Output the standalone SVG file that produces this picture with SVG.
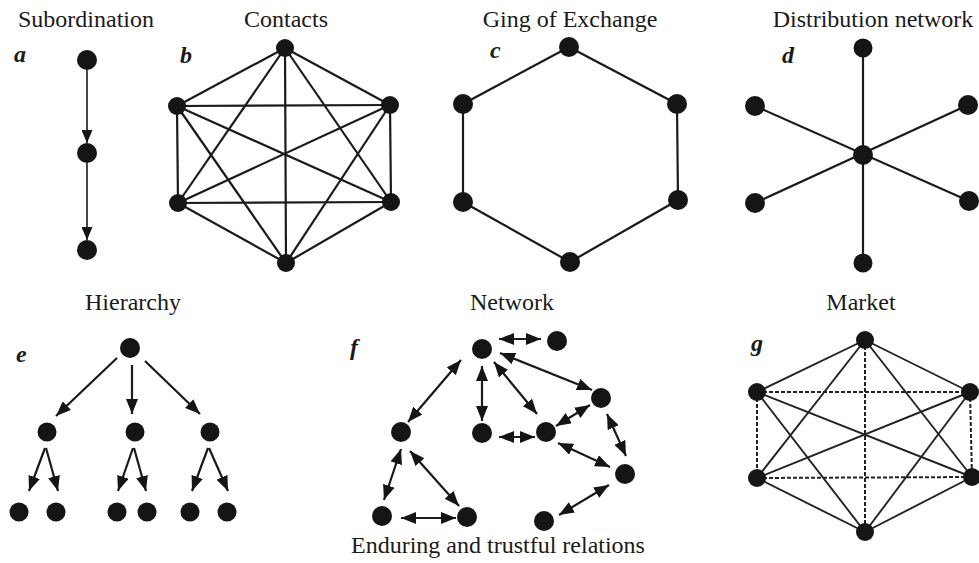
<svg xmlns="http://www.w3.org/2000/svg" width="979" height="563" viewBox="0 0 979 563">
<defs>
<style>
.t{font-family:'Liberation Serif','Times New Roman',serif;font-size:24px;fill:#1a1a1a;text-anchor:middle}
.l{font-family:'Liberation Serif','Times New Roman',serif;font-size:24px;font-weight:bold;font-style:italic;fill:#1a1a1a}
.n{fill:#151515}
.e{stroke:#1a1a1a;stroke-width:2.2;fill:none}
.thin{stroke:#1a1a1a;stroke-width:1.6;fill:none}
.g{stroke:#222;stroke-width:1.9;fill:none}
.dash{stroke:#222;stroke-width:2;fill:none;stroke-dasharray:4 2}
.arr{marker-end:url(#ah)}
.arrs{marker-end:url(#ahs)}
.dbl{marker-start:url(#ah);marker-end:url(#ah)}
</style>
<marker id="ah" markerUnits="userSpaceOnUse" markerWidth="15" markerHeight="12" refX="15" refY="6" orient="auto-start-reverse">
<path d="M0,0 L15,6 L0,12 z" fill="#151515"/>
</marker>
<marker id="ahs" markerUnits="userSpaceOnUse" markerWidth="13" markerHeight="11" refX="13" refY="5.5" orient="auto-start-reverse">
<path d="M0,0 L13,5.5 L0,11 z" fill="#151515"/>
</marker>
</defs>
<rect width="979" height="563" fill="#ffffff"/>

<g font-family="Liberation Serif, Times New Roman, serif">
<!-- titles -->
<text class="t" x="86" y="27">Subordination</text>
<text class="t" x="286" y="27">Contacts</text>
<text class="t" x="570" y="27">Ging of Exchange</text>
<text class="t" x="873" y="27">Distribution network</text>
<text class="t" x="133" y="310">Hierarchy</text>
<text class="t" x="512" y="310">Network</text>
<text class="t" x="861" y="310">Market</text>
<text class="t" x="498" y="553">Enduring and trustful relations</text>

<!-- panel letters -->
<text class="l" x="14" y="62">a</text>
<text class="l" x="180" y="63">b</text>
<text class="l" x="490" y="58">c</text>
<text class="l" x="782" y="63">d</text>
<text class="l" x="16" y="362">e</text>
<text class="l" x="350" y="355">f</text>
<text class="l" x="751" y="351">g</text>
</g>

<g id="connectors">
<!-- a -->
<line class="thin arrs" x1="87" y1="70" x2="87" y2="143"/>
<line class="thin arrs" x1="87" y1="163" x2="87" y2="240"/>
<!-- b -->
<g class="e">
<line x1="285" y1="48" x2="177" y2="106"/>
<line x1="285" y1="48" x2="390" y2="105"/>
<line x1="285" y1="48" x2="178" y2="203"/>
<line x1="285" y1="48" x2="391" y2="202"/>
<line x1="285" y1="48" x2="286" y2="263"/>
<line x1="177" y1="106" x2="390" y2="105"/>
<line x1="177" y1="106" x2="178" y2="203"/>
<line x1="177" y1="106" x2="391" y2="202"/>
<line x1="177" y1="106" x2="286" y2="263"/>
<line x1="390" y1="105" x2="178" y2="203"/>
<line x1="390" y1="105" x2="391" y2="202"/>
<line x1="390" y1="105" x2="286" y2="263"/>
<line x1="178" y1="203" x2="391" y2="202"/>
<line x1="178" y1="203" x2="286" y2="263"/>
<line x1="391" y1="202" x2="286" y2="263"/>
</g>
<!-- c -->
<polygon class="e" points="569,47 677,104 678,200 570,262 463,202 463,104"/>
<!-- d -->
<g class="e">
<line x1="863" y1="48" x2="863" y2="263"/>
<line x1="755" y1="106" x2="969" y2="201"/>
<line x1="968" y1="105" x2="755" y2="203"/>
</g>
<!-- e -->
<g class="e">
<line class="arr" x1="117" y1="358" x2="56" y2="416"/>
<line class="arr" x1="132" y1="365" x2="132" y2="414"/>
<line class="arr" x1="145" y1="361" x2="200" y2="414"/>
<line class="arr" x1="45" y1="448" x2="29" y2="491"/>
<line class="arr" x1="46" y1="448" x2="58" y2="491"/>
<line class="arr" x1="133" y1="448" x2="118" y2="491"/>
<line class="arr" x1="134" y1="448" x2="146" y2="491"/>
<line class="arr" x1="208" y1="448" x2="192" y2="491"/>
<line class="arr" x1="209" y1="448" x2="228" y2="491"/>
</g>
<!-- f -->
<g class="e">
<line class="dbl" x1="499" y1="339" x2="541" y2="339"/>
<line class="dbl" x1="461" y1="360" x2="408" y2="422"/>
<line class="dbl" x1="482" y1="366" x2="482" y2="421"/>
<line class="dbl" x1="494" y1="362" x2="537" y2="414"/>
<line class="dbl" x1="500" y1="353" x2="592" y2="390"/>
<line class="dbl" x1="499" y1="437" x2="535" y2="437"/>
<line class="dbl" x1="556" y1="426" x2="590" y2="405"/>
<line class="dbl" x1="607" y1="414" x2="626" y2="456"/>
<line class="dbl" x1="558" y1="443" x2="610" y2="467"/>
<line class="dbl" x1="609" y1="485" x2="559" y2="515"/>
<line class="dbl" x1="401" y1="449" x2="384" y2="500"/>
<line class="dbl" x1="410" y1="451" x2="459" y2="506"/>
<line class="dbl" x1="401" y1="518" x2="456" y2="518"/>
</g>
<!-- g -->
<g class="g">
<line x1="865" y1="340" x2="757" y2="392"/>
<line x1="865" y1="340" x2="970" y2="392"/>
<line x1="757" y1="478" x2="865" y2="532"/>
<line x1="972" y1="477" x2="865" y2="532"/>
<line x1="757" y1="392" x2="972" y2="477"/>
<line x1="970" y1="392" x2="757" y2="478"/>
<line x1="865" y1="340" x2="757" y2="478"/>
<line x1="865" y1="340" x2="972" y2="477"/>
<line x1="757" y1="392" x2="865" y2="532"/>
<line x1="970" y1="392" x2="865" y2="532"/>
</g>
<g class="dash">
<line x1="865" y1="340" x2="865" y2="532"/>
<line x1="757" y1="392" x2="970" y2="392"/>
<line x1="757" y1="478" x2="972" y2="477"/>
<line x1="757" y1="392" x2="757" y2="478"/>
<line x1="970" y1="392" x2="972" y2="477"/>
</g>
</g>

<!-- nodes: a -->
<g id="a1"><circle class="n" cx="87" cy="60" r="10"/></g>
<g id="a2"><circle class="n" cx="87" cy="153" r="10"/></g>
<g id="a3"><circle class="n" cx="87" cy="250" r="10"/></g>
<!-- b -->
<g id="b1"><circle class="n" cx="285" cy="48" r="9"/></g>
<g id="b2"><circle class="n" cx="177" cy="106" r="9"/></g>
<g id="b3"><circle class="n" cx="390" cy="105" r="9"/></g>
<g id="b4"><circle class="n" cx="178" cy="203" r="9"/></g>
<g id="b5"><circle class="n" cx="391" cy="202" r="9"/></g>
<g id="b6"><circle class="n" cx="286" cy="263" r="9"/></g>
<!-- c -->
<g id="c1"><circle class="n" cx="569" cy="47" r="10"/></g>
<g id="c2"><circle class="n" cx="463" cy="104" r="10"/></g>
<g id="c3"><circle class="n" cx="677" cy="104" r="10"/></g>
<g id="c4"><circle class="n" cx="463" cy="202" r="10"/></g>
<g id="c5"><circle class="n" cx="678" cy="200" r="10"/></g>
<g id="c6"><circle class="n" cx="570" cy="262" r="10"/></g>
<!-- d -->
<g id="d1"><circle class="n" cx="863" cy="48" r="9.5"/></g>
<g id="d2"><circle class="n" cx="755" cy="106" r="10"/></g>
<g id="d3"><circle class="n" cx="968" cy="105" r="10"/></g>
<g id="d4"><circle class="n" cx="863" cy="155" r="10"/></g>
<g id="d5"><circle class="n" cx="755" cy="203" r="10"/></g>
<g id="d6"><circle class="n" cx="969" cy="201" r="10"/></g>
<g id="d7"><circle class="n" cx="863" cy="263" r="9.5"/></g>
<!-- e -->
<g id="e1"><circle class="n" cx="130" cy="348" r="10"/></g>
<g id="e2"><circle class="n" cx="47" cy="432" r="9.5"/></g>
<g id="e3"><circle class="n" cx="135" cy="432" r="9.5"/></g>
<g id="e4"><circle class="n" cx="210" cy="432" r="9.5"/></g>
<g id="e5"><circle class="n" cx="19" cy="512" r="9.5"/></g>
<g id="e6"><circle class="n" cx="56" cy="512" r="9.5"/></g>
<g id="e7"><circle class="n" cx="117" cy="512" r="9.5"/></g>
<g id="e8"><circle class="n" cx="147" cy="512" r="9.5"/></g>
<g id="e9"><circle class="n" cx="190" cy="512" r="9.5"/></g>
<g id="e10"><circle class="n" cx="227" cy="512" r="9.5"/></g>
<!-- f -->
<g id="f1"><circle class="n" cx="482" cy="349" r="10"/></g>
<g id="f2"><circle class="n" cx="557" cy="341" r="10"/></g>
<g id="f3"><circle class="n" cx="601" cy="398" r="10"/></g>
<g id="f4"><circle class="n" cx="482" cy="433" r="10"/></g>
<g id="f5"><circle class="n" cx="546" cy="432" r="10"/></g>
<g id="f6"><circle class="n" cx="401" cy="432" r="10"/></g>
<g id="f7"><circle class="n" cx="625" cy="474" r="10"/></g>
<g id="f8"><circle class="n" cx="382" cy="516" r="10"/></g>
<g id="f9"><circle class="n" cx="467" cy="517" r="10"/></g>
<g id="f10"><circle class="n" cx="544" cy="521" r="10"/></g>
<!-- g -->
<g id="g1"><circle class="n" cx="865" cy="340" r="9"/></g>
<g id="g2"><circle class="n" cx="757" cy="392" r="9"/></g>
<g id="g3"><circle class="n" cx="970" cy="392" r="9"/></g>
<g id="g4"><circle class="n" cx="757" cy="478" r="9"/></g>
<g id="g5"><circle class="n" cx="972" cy="477" r="9"/></g>
<g id="g6"><circle class="n" cx="865" cy="532" r="9"/></g>
</svg>
